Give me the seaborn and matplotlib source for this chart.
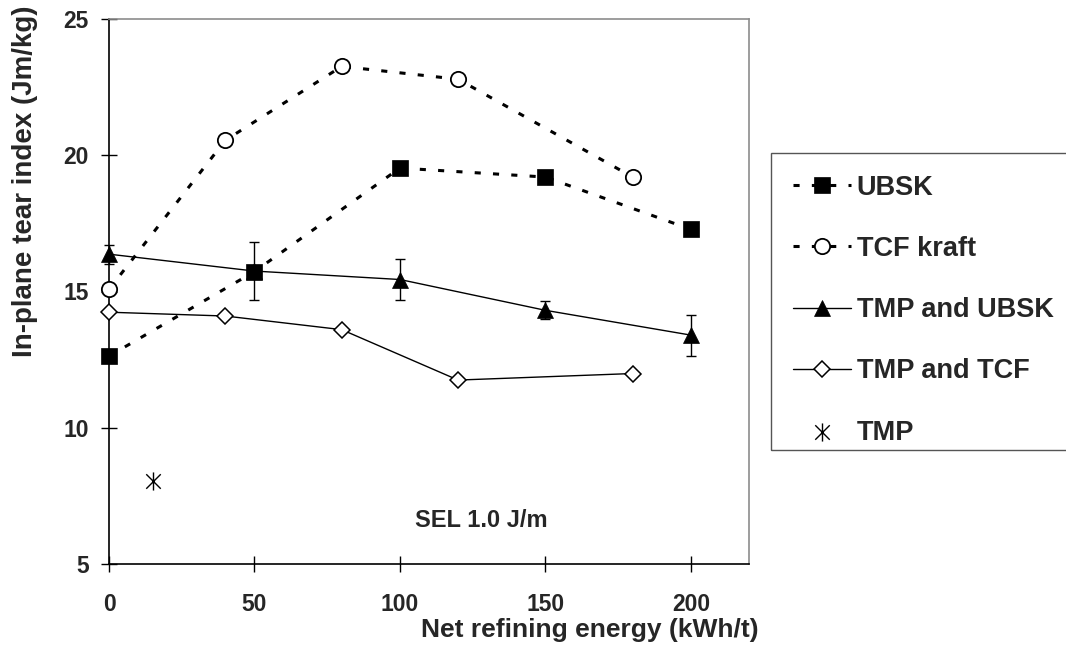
import numpy as np
import pandas as pd
import matplotlib
matplotlib.use("Agg")
import matplotlib.pyplot as plt
from matplotlib.path import Path
from matplotlib.patches import Rectangle
import seaborn as sns

# ---- data ----
ubsk_x = [0, 50, 100, 150, 200]
ubsk_y = [12.63, 15.73, 19.53, 19.2, 17.28]

tcf_x = [0, 40, 80, 120, 180]
tcf_y = [15.08, 20.55, 23.26, 22.79, 19.2]

tmp_ubsk_x = [0, 50, 100, 150, 200]
tmp_ubsk_y = [16.37, 15.75, 15.44, 14.31, 13.40]
tmp_ubsk_err = [0.35, 1.05, 0.74, 0.33, 0.75]

tmp_tcf_x = [0, 40, 80, 120, 180]
tmp_tcf_y = [14.24, 14.1, 13.6, 11.75, 11.99]

tmp_x = [15]
tmp_y = [8.04]

labels = ["UBSK", "TCF kraft", "TMP and UBSK", "TMP and TCF", "TMP"]
x_ticks = [0, 50, 100, 150, 200]
y_ticks = [5, 10, 15, 20, 25]

sns.set_theme(style="white")
plt.rcParams["font.family"] = ["Liberation Sans", "DejaVu Sans"]
plt.rcParams["font.weight"] = "bold"

fig = plt.figure(figsize=(10.66, 6.51), dpi=100)
ax = fig.add_axes([109/1066, 1-564/651, (749-109)/1066, (564-19)/651])

dash = (0, (2, 4))
star = Path([(0, -1), (0, 1), (-0.8, -0.8), (0.8, 0.8), (-0.8, 0.8), (0.8, -0.8)],
            [Path.MOVETO, Path.LINETO, Path.MOVETO, Path.LINETO, Path.MOVETO, Path.LINETO])

# error bars (TMP and UBSK)
ax.errorbar(tmp_ubsk_x, tmp_ubsk_y, yerr=tmp_ubsk_err, fmt="none", ecolor="black",
            elinewidth=1.0, capsize=3.3, capthick=1.0, zorder=2, clip_on=False)

sns.lineplot(x=tmp_ubsk_x, y=tmp_ubsk_y, ax=ax, color="black", linewidth=1.0,
             marker="^", markersize=12, markerfacecolor="black", markeredgecolor="black",
             markeredgewidth=0.5, label=labels[2], zorder=3, clip_on=False)
sns.lineplot(x=tmp_tcf_x, y=tmp_tcf_y, ax=ax, color="black", linewidth=1.0,
             marker="D", markersize=8.5, markerfacecolor="white", markeredgecolor="black",
             markeredgewidth=1.1, label=labels[3], zorder=3, clip_on=False)
sns.lineplot(x=tcf_x, y=tcf_y, ax=ax, color="black", linewidth=2.2, linestyle=dash,
             marker="o", markersize=11, markerfacecolor="white", markeredgecolor="black",
             markeredgewidth=1.3, label=labels[1], zorder=4, clip_on=False)
sns.lineplot(x=ubsk_x, y=ubsk_y, ax=ax, color="black", linewidth=2.2, linestyle=dash,
             marker="s", markersize=11.5, markerfacecolor="black", markeredgecolor="black",
             markeredgewidth=0.5, label=labels[0], zorder=5, clip_on=False)
sns.scatterplot(x=tmp_x, y=tmp_y, ax=ax, color="black", marker=star, s=170,
                linewidth=1.0, edgecolor="black", label=labels[4], zorder=5)

ax.set_xlim(0, 220)
ax.set_ylim(5, 25)
ax.set_xticks(x_ticks)
ax.set_yticks(y_ticks)
ax.set_xticklabels([str(v) for v in x_ticks], fontsize=16.5, fontweight="bold")
ax.set_yticklabels([str(v) for v in y_ticks], fontsize=16.5, fontweight="bold")
ax.tick_params(axis="both", direction="inout", length=11.5, width=1.0, color="black")
ax.tick_params(axis="x", pad=15, bottom=True)
ax.tick_params(axis="y", pad=9, left=True)

for s in ["left", "bottom"]:
    ax.spines[s].set_color("black")
    ax.spines[s].set_linewidth(1.2)
for s in ["top", "right"]:
    ax.spines[s].set_color("#8c8c8c")
    ax.spines[s].set_linewidth(1.2)

ax.set_xlabel("Net refining energy (kWh/t)", fontsize=19, fontweight="bold")
ax.set_ylabel("In-plane tear index (Jm/kg)", fontsize=20, fontweight="bold")
ax.xaxis.set_label_coords(0.752, -0.099)
ax.yaxis.set_label_coords(-0.111, 0.703)

ax.text(128, 6.59, "SEL 1.0 J/m", fontsize=17, fontweight="bold", ha="center", va="center")

handles, labs = ax.get_legend_handles_labels()
order = [labs.index(l) for l in labels]
ax.legend([handles[i] for i in order], [labs[i] for i in order],
          loc="upper left", bbox_to_anchor=(771/1066, 1-153/651),
          bbox_transform=fig.transFigure, borderaxespad=0, frameon=False,
          prop={"size": 19.5, "weight": "bold"}, handlelength=2.15,
          handletextpad=0.22, labelspacing=1.3, borderpad=0.8)

# legend frame (clipped at the right edge as in the original)
fig.patches.append(Rectangle((771/1066, 1-450/651), 400/1066, (450-153)/651,
                             transform=fig.transFigure, fill=False,
                             edgecolor="#555555", linewidth=1.0, zorder=0))

fig.savefig("out.png", dpi=100)
